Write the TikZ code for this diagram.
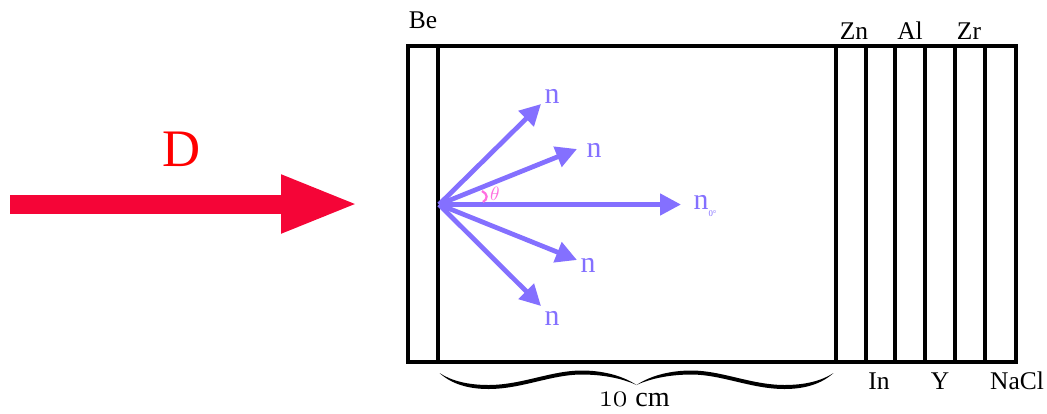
\documentclass[tikz,border=0pt]{standalone}
\usepackage{fontspec}
\setmainfont{Liberation Serif}
\newfontfamily\numfont[Numbers=OldStyle]{Latin Modern Roman}
\usetikzlibrary{arrows.meta, positioning}
\definecolor{beamred}{HTML}{F50537}
\definecolor{neutron}{HTML}{8470FF}
\definecolor{anglepink}{HTML}{FF6FE0}

\begin{document}
\begin{tikzpicture}[
    x=0.02cm, y=-0.02cm,
    lab/.style={inner sep=0pt, font=\fontsize{14.5}{16}\selectfont},
    nlab/.style={inner sep=0pt, text=neutron, font=\fontsize{17}{19}\selectfont},
    narr/.style={neutron, line width=0.095cm, -{Triangle[length=0.42cm, width=0.42cm]}},
    wall/.style={line width=0.09cm},
]
    \useasboundingbox (0,0) rectangle (1047,413);

    % incoming beam
    \coordinate (dstart) at (10,204);
    \coordinate (dtip) at (359,204);
    \draw[beamred, line width=0.38cm, -{Triangle[length=1.56cm, width=1.06cm]}] (dstart) -- (dtip);
    \node[inner sep=0pt, text=red, font=\fontsize{30}{32}\selectfont] (dlab) at (182,149) {D};

    % target stack
    \node[draw, wall, minimum width=12.16cm, minimum height=6.32cm, inner sep=0pt] (frame) at (712,204) {};
    \foreach \x in {438,836,866,895,925,955,985}
        \draw[wall] (\x,46) -- (\x,362);

    \node[lab] (be) at (423,20) {Be};
    \node[lab] (zn) at (854,31) {Zn};
    \node[lab] (al) at (910,31) {Al};
    \node[lab] (zr) at (969,31) {Zr};
    \node[lab] (in) at (879,381) {In};
    \node[lab] (yt) at (940,381) {Y};
    \node[lab] (nacl) at (1017,381) {NaCl};

    % neutrons
    \coordinate (src) at (439,204.5);
    \coordinate (tipa) at (541,104);
    \coordinate (tipb) at (577,149);
    \coordinate (tipc) at (681,204.5);
    \coordinate (tipd) at (577,260);
    \coordinate (tipe) at (541,306);
    \foreach \t in {tipa,tipb,tipc,tipd,tipe}
        \draw[narr] (src) -- (\t);

    \node[nlab] (na) at (552,96) {n};
    \node[nlab] (nb) at (594,150) {n};
    \node[nlab] (nc) at (705,206) {n\raisebox{-0.5ex}{\fontsize{5}{5}\selectfont 0°}};
    \node[nlab] (nd) at (588,265) {n};
    \node[nlab] (ne) at (552,318) {n};

    \draw[anglepink, line width=0.045cm] (482,191) .. controls (488,194) and (488,199) .. (483,202);
    \node[inner sep=0pt, text=anglepink, font=\fontsize{11}{12}\selectfont] (theta) at (495,194) {$\theta$};

    % brace below the long gap
    \foreach \s in {1,-1}
        \fill[shift={(636.5,0)}, xscale=\s] (0,385)
            .. controls (-15,375) and (-35,370.5) .. (-55,370.5)
            .. controls (-85,370.5) and (-115,385) .. (-148,385)
            .. controls (-168,385) and (-185,381) .. (-197,373)
            .. controls (-185,384) and (-168,389) .. (-148,389)
            .. controls (-115,389) and (-85,374.5) .. (-55,374.5)
            .. controls (-35,374.5) and (-15,378) .. (0,385) -- cycle;
    \node[inner sep=0pt, font=\fontsize{16}{18}\selectfont] (gap) at (635,399) {{\numfont\fontsize{18}{18}\selectfont 10} cm};
\end{tikzpicture}
\end{document}
